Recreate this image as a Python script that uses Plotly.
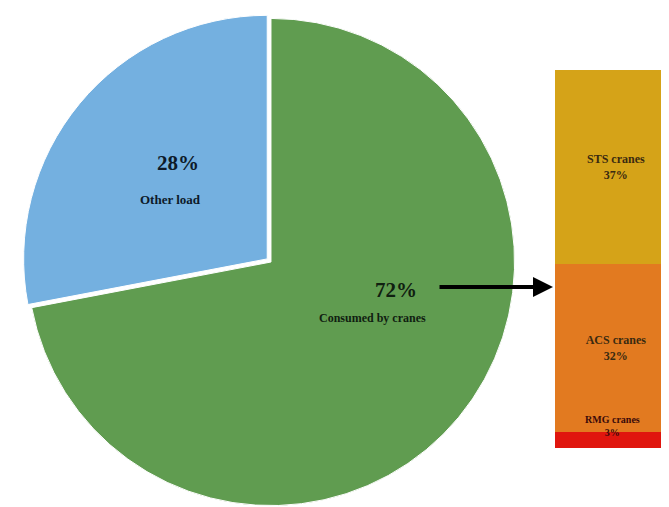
import plotly.graph_objects as go

# Pie data
pie_labels = ["Consumed by cranes", "Other load"]
pie_values = [72, 28]
pie_colors = ["#609c50", "#74b0e0"]
pie_pull = [0, 0.02]

# Stacked bar data (breakdown of crane consumption)
bar_labels = ["RMG cranes", "ACS cranes", "STS cranes"]
bar_values = [3, 32, 37]
bar_colors = ["#e0160e", "#e27a20", "#d5a318"]
bar_text = ["", "<b>ACS cranes<br>32%</b>", "<b>STS cranes<br>37%</b>"]

W, H = 669, 507
OFF = 8  # page body margin offset


def px(x):
    return (x - OFF) / W


def py(y):
    return 1 - (y - OFF) / H


fig = go.Figure()

fig.add_trace(go.Pie(
    labels=pie_labels, values=pie_values, sort=False, direction="clockwise",
    rotation=0, pull=pie_pull, textinfo="none", showlegend=False,
    marker=dict(colors=pie_colors, line=dict(color="white", width=1)),
    domain=dict(x=[0.0217, 0.7645], y=[0.004, 0.994]),
    hoverinfo="label+percent",
))

for lab, val, col, txt in zip(bar_labels, bar_values, bar_colors, bar_text):
    fig.add_trace(go.Bar(
        x=[0], y=[val], name=lab, marker=dict(color=col, line=dict(width=0)),
        width=1, text=[txt], textposition="inside", insidetextanchor="middle",
        textfont=dict(family="Liberation Serif", size=12, color="#3a2a10"),
        showlegend=False, xaxis="x", yaxis="y", texttemplate="%{text}",
    ))

fig.update_layout(
    width=W, height=H, margin=dict(l=0, r=0, t=0, b=0),
    paper_bgcolor="white", plot_bgcolor="white", barmode="stack",
    xaxis=dict(domain=[547 / W, 1.0], range=[-0.5, 0.5], visible=False, fixedrange=True),
    yaxis=dict(domain=[0.1321, 0.8777], range=[0, sum(bar_values)], visible=False, fixedrange=True),
    uniformtext=dict(minsize=8, mode="show"),
)

serif = "Liberation Serif"
anns = [
    dict(x=px(178), y=py(163), text="<b>28%</b>", font=dict(family=serif, size=21, color="#0d1a2a")),
    dict(x=px(170), y=py(200), text="<b>Other load</b>", font=dict(family=serif, size=13, color="#0d1a2a")),
    dict(x=px(396), y=py(290), text="<b>72%</b>", font=dict(family=serif, size=21, color="#102010")),
    dict(x=px(373), y=py(318), text="<b>Consumed by cranes</b>", font=dict(family=serif, size=12, color="#102010")),
    dict(x=px(612), y=py(426), text="<b>RMG cranes</b><br><b>3%</b>", font=dict(family=serif, size=10, color="#3a0a0a")),
]
for a in anns:
    fig.add_annotation(xref="paper", yref="paper", showarrow=False, xanchor="center", yanchor="middle", **a)

# Arrow from pie to bar
fig.add_annotation(xref="paper", yref="paper", x=px(553), y=py(287), ax=-115, ay=0,
                   text="", showarrow=True, arrowhead=2, arrowsize=1, arrowwidth=4, arrowcolor="black")

fig.write_html("out.html")
